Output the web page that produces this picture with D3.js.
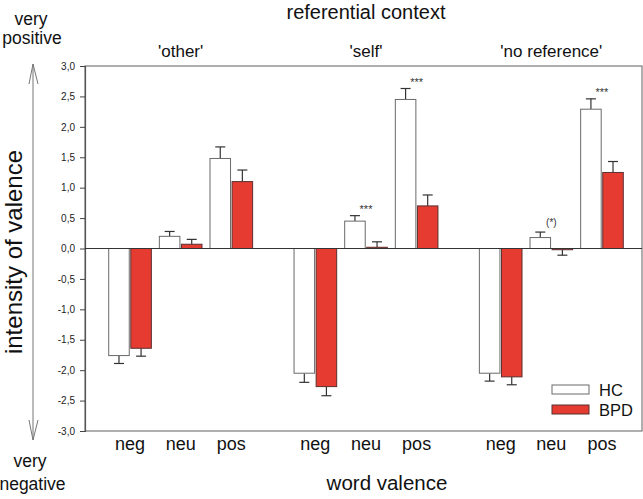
<!DOCTYPE html>
<html>
<head>
<meta charset="utf-8">
<script src="https://cdn.jsdelivr.net/npm/d3@7/dist/d3.min.js"></script>
<style>
  html, body { margin: 0; padding: 0; background: #fff; }
  svg { display: block; font-family: "Liberation Sans", Arial, sans-serif; }
</style>
</head>
<body>
<svg id="chart" width="643" height="499"></svg>
<script>
// ---- data ----
const contexts = ["'other'", "'self'", "'no reference'"];
const valences = ["neg", "neu", "pos"];
const groupsSeries = ["HC", "BPD"];
// means per context, in valence order neg, neu, pos
const hcMeans  = [[-1.76, 0.20, 1.48], [-2.05, 0.45, 2.45], [-2.05, 0.18, 2.29]];
const bpdMeans = [[-1.64, 0.07, 1.10], [-2.27, 0.02, 0.70], [-2.11, -0.02, 1.25]];
const hcErr    = [[0.13, 0.08, 0.19], [0.15, 0.09, 0.18], [0.13, 0.09, 0.17]];
const bpdErr   = [[0.13, 0.08, 0.19], [0.15, 0.09, 0.18], [0.13, 0.09, 0.18]];
const yTicks = [-3, -2.5, -2, -1.5, -1, -0.5, 0, 0.5, 1, 1.5, 2, 2.5, 3];
// significance annotations: [context index, valence index, label]
const annotations = [[1, 1, "***"], [1, 2, "***"], [2, 1, "(*)"], [2, 2, "***"]];

const colors = { HC: "#ffffff", BPD: "#e53b31" };
const strokes = { HC: "#6a6a6a", BPD: "#5a3030" };

const svg = d3.select("#chart");
const plot = { left: 85, right: 642, top: 66, bottom: 431 };

const y = d3.scaleLinear().domain([-3, 3]).range([plot.bottom, plot.top]);
const xGroup = d3.scaleBand().domain(contexts).range([88, 644]).paddingInner(0).paddingOuter(0);
const xVal = d3.scaleBand().domain(valences).range([0, xGroup.bandwidth()]).paddingInner(0).paddingOuter(0.33);
const xSer = d3.scaleBand().domain(groupsSeries).range([4, xVal.bandwidth() - 4]).paddingInner(0.07);

// records
const records = [];
contexts.forEach((c, ci) => {
  valences.forEach((v, vi) => {
    records.push({ c, v, s: "HC", mean: hcMeans[ci][vi], err: hcErr[ci][vi] });
    records.push({ c, v, s: "BPD", mean: bpdMeans[ci][vi], err: bpdErr[ci][vi] });
  });
});
const bx = d => xGroup(d.c) + xVal(d.v) + xSer(d.s);
const bc = d => bx(d) + xSer.bandwidth() / 2;

// frame
svg.append("rect")
  .attr("x", plot.left).attr("y", plot.top)
  .attr("width", plot.right - plot.left).attr("height", plot.bottom - plot.top)
  .attr("fill", "none").attr("stroke", "#7a7a7a").attr("stroke-width", 1.2);

// y axis
const yAxis = d3.axisLeft(y).tickValues(yTicks).tickSize(5).tickPadding(5)
  .tickFormat(d => d3.format(".1f")(d).replace(".", ",").replace("−", "-"));
const gy = svg.append("g").attr("transform", `translate(${plot.left},0)`).call(yAxis);
gy.select(".domain").attr("stroke", "#555").attr("stroke-width", 1.2);
gy.selectAll(".tick line").attr("stroke", "#444");
gy.selectAll(".tick text").attr("font-size", 10).attr("fill", "#222")
  .attr("font-family", "'Liberation Sans', Arial, sans-serif");

// error bars
const eg = svg.append("g");
records.forEach(d => {
  const end = d.mean >= 0 ? d.mean + d.err : d.mean - d.err;
  const cx = bc(d);
  eg.append("line").attr("x1", cx).attr("x2", cx).attr("y1", y(d.mean)).attr("y2", y(end))
    .attr("stroke", "#333").attr("stroke-width", 1.2);
  eg.append("line").attr("x1", cx - 5).attr("x2", cx + 5).attr("y1", y(end)).attr("y2", y(end))
    .attr("stroke", "#333").attr("stroke-width", 1.2);
});

// bars
svg.append("g").selectAll("rect").data(records).join("rect")
  .attr("x", bx)
  .attr("y", d => y(Math.max(0, d.mean)))
  .attr("width", xSer.bandwidth())
  .attr("height", d => Math.abs(y(d.mean) - y(0)))
  .attr("fill", d => colors[d.s])
  .attr("stroke", d => strokes[d.s]).attr("stroke-width", 1);

// zero line
svg.append("line").attr("x1", plot.left).attr("x2", plot.right)
  .attr("y1", y(0)).attr("y2", y(0)).attr("stroke", "#333").attr("stroke-width", 1.2);

// annotations
annotations.forEach(([ci, vi, label]) => {
  const hc = hcMeans[ci][vi] + hcErr[ci][vi];
  const cx = xGroup(contexts[ci]) + xVal(valences[vi]) + xVal.bandwidth() / 2;
  svg.append("text").attr("x", cx).attr("y", y(hc) - (label === "***" ? 2.5 : 6))
    .attr("text-anchor", "middle").attr("font-size", label === "***" ? 11 : 10)
    .attr("fill", "#333").text(label);
});

// x category labels
contexts.forEach(c => {
  valences.forEach(v => {
    svg.append("text").attr("x", xGroup(c) + xVal(v) + xVal.bandwidth() / 2).attr("y", 450)
      .attr("text-anchor", "middle").attr("font-size", 18).attr("fill", "#111").text(v);
  });
  svg.append("text").attr("x", xGroup(c) + xGroup.bandwidth() / 2).attr("y", 57)
    .attr("text-anchor", "middle").attr("font-size", 17).attr("fill", "#111").text(c);
});

// titles
svg.append("text").attr("x", 366).attr("y", 19).attr("text-anchor", "middle")
  .attr("font-size", 20).attr("fill", "#111").text("referential context");
svg.append("text").attr("x", 387).attr("y", 490).attr("text-anchor", "middle")
  .attr("font-size", 20.5).attr("fill", "#111").text("word valence");
svg.append("text").attr("transform", "translate(22,252) rotate(-90)").attr("text-anchor", "middle")
  .attr("font-size", 24).attr("fill", "#111").text("intensity of valence");

// very positive / very negative
[["very", 25, 31], ["positive", 44, 32], ["very", 467, 30], ["negative", 490, 32.5]].forEach(([t, yy, xx]) => {
  svg.append("text").attr("x", xx).attr("y", yy).attr("text-anchor", "middle")
    .attr("font-size", 17.5).attr("fill", "#111").text(t);
});

// double arrow
const ag = svg.append("g").attr("stroke", "#777").attr("stroke-width", 1).attr("fill", "none");
ag.append("line").attr("x1", 33).attr("x2", 33).attr("y1", 64).attr("y2", 440);
ag.append("path").attr("d", "M29,84 L33,64 L38,84");
ag.append("path").attr("d", "M29,420 L33,440 L38,420");

// legend
const lg = svg.append("g");
groupsSeries.forEach((s, i) => {
  lg.append("rect").attr("x", 552).attr("y", 385 + i * 20).attr("width", 37).attr("height", 9)
    .attr("fill", colors[s]).attr("stroke", strokes[s]).attr("stroke-width", 1);
  lg.append("text").attr("x", 599).attr("y", 395.5 + i * 20).attr("font-size", 16.5)
    .attr("fill", "#111").text(s);
});
</script>
</body>
</html>
